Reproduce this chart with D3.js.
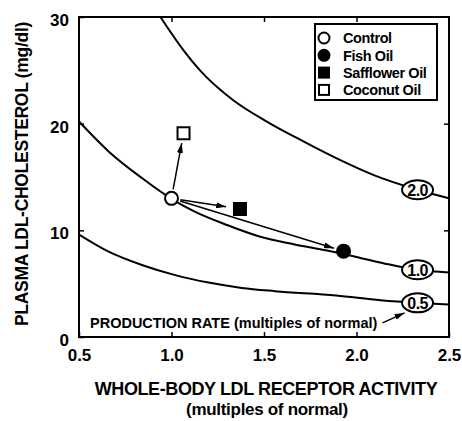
<!DOCTYPE html>
<html>
<head>
<meta charset="utf-8">
<script src="https://cdn.jsdelivr.net/npm/d3@7"></script>
<style>
  body { margin: 0; background: #fff; }
  text { font-family: "Liberation Sans", Arial, Helvetica, sans-serif; font-weight: bold; fill: #000; }
</style>
</head>
<body>
<svg id="chart" width="462" height="421"></svg>
<script>
// production rate curves (multiples of normal)
var rateLabels = ["2.0", "1.0", "0.5"];
var rate20 = [[0.94, 30], [1.064, 26.9], [1.154, 25.0], [1.334, 22.2], [1.515, 20.2], [1.695, 18.5],
              [1.91, 16.6], [2.09, 15.2], [2.33, 13.8], [2.5, 13.0]];
var rate10 = [[0.5, 20.2], [0.66, 17.4], [0.84, 14.9], [1.0, 12.95], [1.12, 11.8], [1.3, 10.5],
              [1.48, 9.4], [1.66, 8.7], [1.84, 8.1], [2.0, 7.5], [2.15, 6.9], [2.33, 6.3], [2.5, 6.05]];
var rate05 = [[0.5, 9.6], [0.66, 8.0], [0.84, 6.75], [1.02, 5.8], [1.2, 5.1], [1.38, 4.6],
              [1.56, 4.3], [1.89, 3.9], [2.13, 3.45], [2.33, 3.2], [2.5, 3.05]];
var curves = [rate20, rate10, rate05];
var labelAt = 2.33; // curve label sits on the point at this activity

// diet groups
var diets = ["Control", "Fish Oil", "Safflower Oil", "Coconut Oil"];
var activity = [1.0, 1.93, 1.37, 1.065];
var ldl = [13.0, 8.05, 12.0, 19.1];

var xTicks = [0.5, 1.0, 1.5, 2.0, 2.5];
var yTicks = [0, 10, 20, 30];

var svg = d3.select("#chart");
var pLeft = 79, pRight = 449, pTop = 17, pBottom = 337;

var x = d3.scaleLinear().domain([0.5, 2.5]).range([pLeft, pRight]);
var y = d3.scaleLinear().domain([0, 30]).range([pBottom, pTop]);

svg.append("defs").append("marker")
    .attr("id", "head")
    .attr("viewBox", "0 0 10 6")
    .attr("refX", 10).attr("refY", 3)
    .attr("markerWidth", 10).attr("markerHeight", 6)
    .attr("markerUnits", "userSpaceOnUse")
    .attr("orient", "auto")
  .append("path").attr("d", "M0,0L10,3L0,6Z").attr("fill", "#000");

svg.append("clipPath").attr("id", "plot")
  .append("rect").attr("x", pLeft).attr("y", pTop).attr("width", pRight - pLeft).attr("height", pBottom - pTop);

// axes with inward ticks
var fmt = d3.format(".1f");
svg.append("g").attr("transform", "translate(0," + pBottom + ")")
    .call(d3.axisBottom(x).tickValues(xTicks).tickFormat(fmt).tickSize(-5).tickPadding(17))
    .call(function (g) {
        g.select(".domain").remove();
        g.selectAll("line").attr("stroke-width", 1.5);
        g.selectAll("text").style("font-size", "17px").attr("dy", "0.4em");
    });
svg.append("g").attr("transform", "translate(0," + pTop + ")")
    .call(d3.axisTop(x).tickValues(xTicks.slice(1, 4)).tickFormat("").tickSize(-5))
    .call(function (g) { g.select(".domain").remove(); g.selectAll("line").attr("stroke-width", 1.5); });
svg.append("g").attr("transform", "translate(" + pLeft + ",0)")
    .call(d3.axisLeft(y).tickValues(yTicks).tickSize(-5).tickPadding(10))
    .call(function (g) {
        g.select(".domain").remove();
        g.selectAll("line").attr("stroke-width", 1.5);
        g.selectAll("text").style("font-size", "17px").attr("dy", "0.5em");
    });
svg.append("g").attr("transform", "translate(" + pRight + ",0)")
    .call(d3.axisRight(y).tickValues(yTicks.slice(1, 3)).tickFormat("").tickSize(-5))
    .call(function (g) { g.select(".domain").remove(); g.selectAll("line").attr("stroke-width", 1.5); });

svg.append("rect")
    .attr("x", pLeft).attr("y", pTop).attr("width", pRight - pLeft).attr("height", pBottom - pTop)
    .attr("fill", "none").attr("stroke", "#000").attr("stroke-width", 2);

// curves
var line = d3.line()
    .x(function (d) { return x(d[0]); })
    .y(function (d) { return y(d[1]); })
    .curve(d3.curveMonotoneX);

svg.append("g").attr("clip-path", "url(#plot)")
  .selectAll("path.rate")
    .data(curves)
  .enter().append("path")
    .attr("class", "rate")
    .attr("d", line)
    .attr("fill", "none")
    .attr("stroke", "#000")
    .attr("stroke-width", 2);

// arrows from control to each diet
var cx = x(activity[0]), cy = y(ldl[0]);
var arrows = svg.append("g");
[1, 2, 3].forEach(function (i) {
    var tx = x(activity[i]), ty = y(ldl[i]);
    var dx = tx - cx, dy = ty - cy, len = Math.sqrt(dx * dx + dy * dy);
    var s0 = 9, s1 = i == 2 ? 14 : 10;
    arrows.append("line")
        .attr("x1", cx + dx / len * s0).attr("y1", cy + dy / len * s0)
        .attr("x2", tx - dx / len * s1).attr("y2", ty - dy / len * s1)
        .attr("stroke", "#000").attr("stroke-width", 1.5)
        .attr("marker-end", "url(#head)");
});

// diet markers
var drawMarker = function (g, i, px, py, big) {
    var r = big ? 6.5 : 5.5;
    if (i < 2) {
        g.append("circle").attr("cx", px).attr("cy", py).attr("r", r)
            .attr("fill", i == 0 ? "#fff" : "#000").attr("stroke", "#000").attr("stroke-width", 2);
    } else {
        g.append("rect").attr("x", px - r + 0.5).attr("y", py - r + 0.5)
            .attr("width", 2 * r - 1).attr("height", 2 * r - 1)
            .attr("fill", i == 2 ? "#000" : "#fff").attr("stroke", "#000").attr("stroke-width", 2);
    }
};
var marks = svg.append("g");
diets.forEach(function (d, i) { drawMarker(marks, i, x(activity[i]), y(ldl[i]), true); });

// curve labels in ellipses
curves.forEach(function (c, i) {
    var p = c.filter(function (d) { return d[0] == labelAt; })[0];
    var g = svg.append("g").attr("transform", "translate(" + x(p[0]) + "," + y(p[1]) + ")");
    g.append("ellipse").attr("rx", 15.5).attr("ry", 9.5)
        .attr("fill", "#fff").attr("stroke", "#000").attr("stroke-width", 2);
    g.append("text").attr("text-anchor", "middle").attr("dy", "0.36em")
        .style("font-size", "16px").style("letter-spacing", "-0.6px").text(rateLabels[i]);
});

// production rate note with arrow to the 0.5 label
var p05 = rate05.filter(function (d) { return d[0] == labelAt; })[0];
var lx = x(p05[0]), ly = y(p05[1]);
svg.append("text").attr("x", 90).attr("y", 328)
    .style("font-size", "14.5px")
    .text("PRODUCTION RATE (multiples of normal)");
svg.append("line")
    .attr("x1", lx - 35).attr("y1", ly + 20)
    .attr("x2", lx - 13).attr("y2", ly + 10)
    .attr("stroke", "#000").attr("stroke-width", 1.5)
    .attr("marker-end", "url(#head)");

// legend
var legend = svg.append("g");
legend.append("rect").attr("x", 315).attr("y", 24).attr("width", 122).attr("height", 76)
    .attr("fill", "#fff").attr("stroke", "#000").attr("stroke-width", 2);
diets.forEach(function (d, i) {
    var ry = 38 + i * 17.3;
    drawMarker(legend, i, 324, ry, false);
    legend.append("text").attr("x", 343).attr("y", ry).attr("dy", "0.36em")
        .style("font-size", "14.5px").style("letter-spacing", "-0.4px").text(d);
});

// axis titles
svg.append("text").attr("x", 266).attr("y", 395).attr("text-anchor", "middle")
    .style("font-size", "18px").style("letter-spacing", "-0.4px")
    .text("WHOLE-BODY LDL RECEPTOR ACTIVITY");
svg.append("text").attr("x", 267).attr("y", 415).attr("text-anchor", "middle")
    .style("font-size", "17px").style("letter-spacing", "-0.3px")
    .text("(multiples of normal)");
svg.append("text").attr("transform", "translate(28,174) rotate(-90)").attr("text-anchor", "middle")
    .style("font-size", "17.5px").style("letter-spacing", "-0.3px")
    .text("PLASMA LDL-CHOLESTEROL (mg/dl)");
</script>
</body>
</html>
